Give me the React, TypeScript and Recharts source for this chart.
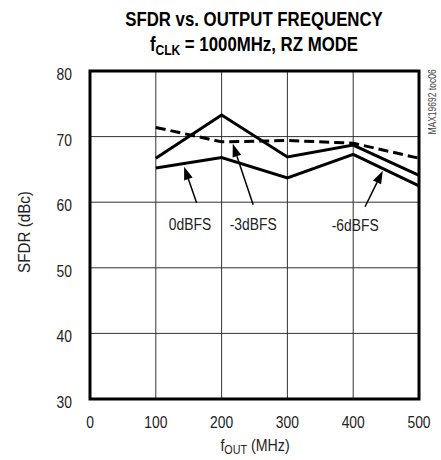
import React from "react";
import {
  CartesianGrid,
  Line,
  LineChart,
  ReferenceArea,
  ReferenceDot,
  ReferenceLine,
  XAxis,
  YAxis,
} from "recharts";

const FONT = "'Liberation Sans', Arial, sans-serif";
const SQUEEZE = 0.84; // fake a condensed face

// f_OUT in MHz
const fOut = [100, 200, 300, 400, 500];
// SFDR in dBc
const sfdr0dBFS = [65.2, 66.8, 63.7, 67.3, 62.5];
const sfdr3dBFS = [71.4, 69.2, 69.4, 69.0, 66.7];
const sfdr6dBFS = [66.7, 73.3, 66.9, 68.7, 64.1];

const xTicks = [0, 100, 200, 300, 400, 500];
const yTicks = [30, 40, 50, 60, 70, 80];

// callouts in data units: label position, arrow tail, arrow tip
const callouts = [
  { text: "0dBFS", at: [152, 56.7], tail: [162, 59.9], tip: [143, 65.4] },
  { text: "-3dBFS", at: [248, 56.7], tail: [248, 59.6], tip: [217, 68.9] },
  { text: "-6dBFS", at: [403, 56.5], tail: [418, 59.3], tip: [445, 64.8] },
];

const data = fOut.map((f, i) => ({
  f,
  a: sfdr0dBFS[i],
  b: sfdr3dBFS[i],
  c: sfdr6dBFS[i],
}));

const XTick = ({ x, y, payload }: any) => (
  <text
    transform={`translate(${x},${y}) scale(${SQUEEZE},1)`}
    textAnchor="middle"
    dy={29}
    fontSize={16.5}
    fill="#222"
    fontFamily={FONT}
  >
    {payload.value}
  </text>
);

const YTick = ({ x, y, payload }: any) => (
  <text
    transform={`translate(${x},${y}) scale(${SQUEEZE},1)`}
    textAnchor="end"
    dy={9}
    fontSize={16.5}
    fill="#222"
    fontFamily={FONT}
  >
    {payload.value}
  </text>
);

const Arrow = (props: any) => {
  const { x1, y1, x2, y2 } = props;
  const dx = x2 - x1;
  const dy = y2 - y1;
  const len = Math.sqrt(dx * dx + dy * dy) || 1;
  const ux = dx / len;
  const uy = dy / len;
  const head = 13;
  const half = 4.5;
  const bx = x2 - ux * head;
  const by = y2 - uy * head;
  return (
    <g>
      <line x1={x1} y1={y1} x2={bx} y2={by} stroke="#000" strokeWidth={1.5} />
      <polygon
        points={`${x2},${y2} ${bx - uy * half},${by + ux * half} ${bx + uy * half},${by - ux * half}`}
        fill="#000"
      />
    </g>
  );
};

const calloutText = (text: string) => (p: any) => (
  <text
    transform={`translate(${p.cx},${p.cy}) scale(${SQUEEZE},1)`}
    textAnchor="middle"
    dy={6}
    fontSize={16.5}
    fill="#222"
    fontFamily={FONT}
  >
    {text}
  </text>
);

const App = () => {
  return (
    <div style={{ position: "absolute", left: 0, top: 0, width: 441, height: 460, background: "#fff", fontFamily: FONT }}>
      <div
        style={{
          position: "absolute",
          left: 54,
          width: 400,
          top: 6,
          textAlign: "center",
          fontWeight: "bold",
          fontSize: 21,
          lineHeight: "25px",
          color: "#000",
          transform: "scaleX(0.8)",
          transformOrigin: "200px 0",
        }}
      >
        <div>SFDR vs. OUTPUT FREQUENCY</div>
        <div>
          f<span style={{ fontSize: 15, verticalAlign: -4 }}>CLK</span> = 1000MHz, RZ MODE
        </div>
      </div>
      <LineChart
        width={441}
        height={460}
        data={data}
        margin={{ top: 71, right: 22, bottom: 0, left: 0 }}
        style={{ fontFamily: FONT }}
      >
        <CartesianGrid stroke="#333" strokeWidth={1} />
        <XAxis
          dataKey="f"
          type="number"
          domain={[0, 500]}
          ticks={xTicks}
          height={61}
          axisLine={false}
          tickLine={false}
          tickSize={0}
          tickMargin={0}
          tick={<XTick />}
        />
        <YAxis
          type="number"
          domain={[30, 80]}
          ticks={yTicks}
          width={90}
          axisLine={false}
          tickLine={false}
          tickSize={0}
          tickMargin={18}
          tick={<YTick />}
        />
        <ReferenceArea x1={0} x2={500} y1={30} y2={80} fill="none" stroke="#000" strokeWidth={3} />
        <Line dataKey="a" stroke="#000" strokeWidth={3} dot={false} isAnimationActive={false} />
        <Line dataKey="b" stroke="#000" strokeWidth={3} strokeDasharray="10 5" dot={false} isAnimationActive={false} />
        <Line dataKey="c" stroke="#000" strokeWidth={3} dot={false} isAnimationActive={false} />
        {callouts.map((c) => (
          <ReferenceLine
            key={c.text + "-arrow"}
            segment={[
              { x: c.tail[0], y: c.tail[1] },
              { x: c.tip[0], y: c.tip[1] },
            ]}
            shape={Arrow}
          />
        ))}
        {callouts.map((c) => (
          <ReferenceDot key={c.text} x={c.at[0]} y={c.at[1]} r={0} shape={calloutText(c.text)} />
        ))}
      </LineChart>
      <div
        style={{
          position: "absolute",
          left: 24,
          top: 232,
          transform: "translate(-50%, -50%) rotate(-90deg) scaleX(0.92)",
          fontSize: 16.5,
          color: "#222",
          whiteSpace: "nowrap",
        }}
      >
        SFDR (dBc)
      </div>
      <div
        style={{
          position: "absolute",
          left: 155,
          width: 200,
          top: 436,
          textAlign: "center",
          fontSize: 16.5,
          color: "#222",
          transform: "scaleX(0.86)",
          transformOrigin: "100px 0",
        }}
      >
        f<span style={{ fontSize: 12.5, verticalAlign: -3 }}>OUT</span> (MHz)
      </div>
      <div
        style={{
          position: "absolute",
          left: 432,
          top: 102,
          transform: "translate(-50%, -50%) rotate(-90deg) scaleX(0.85)",
          fontSize: 10,
          color: "#444",
          whiteSpace: "nowrap",
        }}
      >
        MAX19692 toc06
      </div>
    </div>
  );
};

export default App;
